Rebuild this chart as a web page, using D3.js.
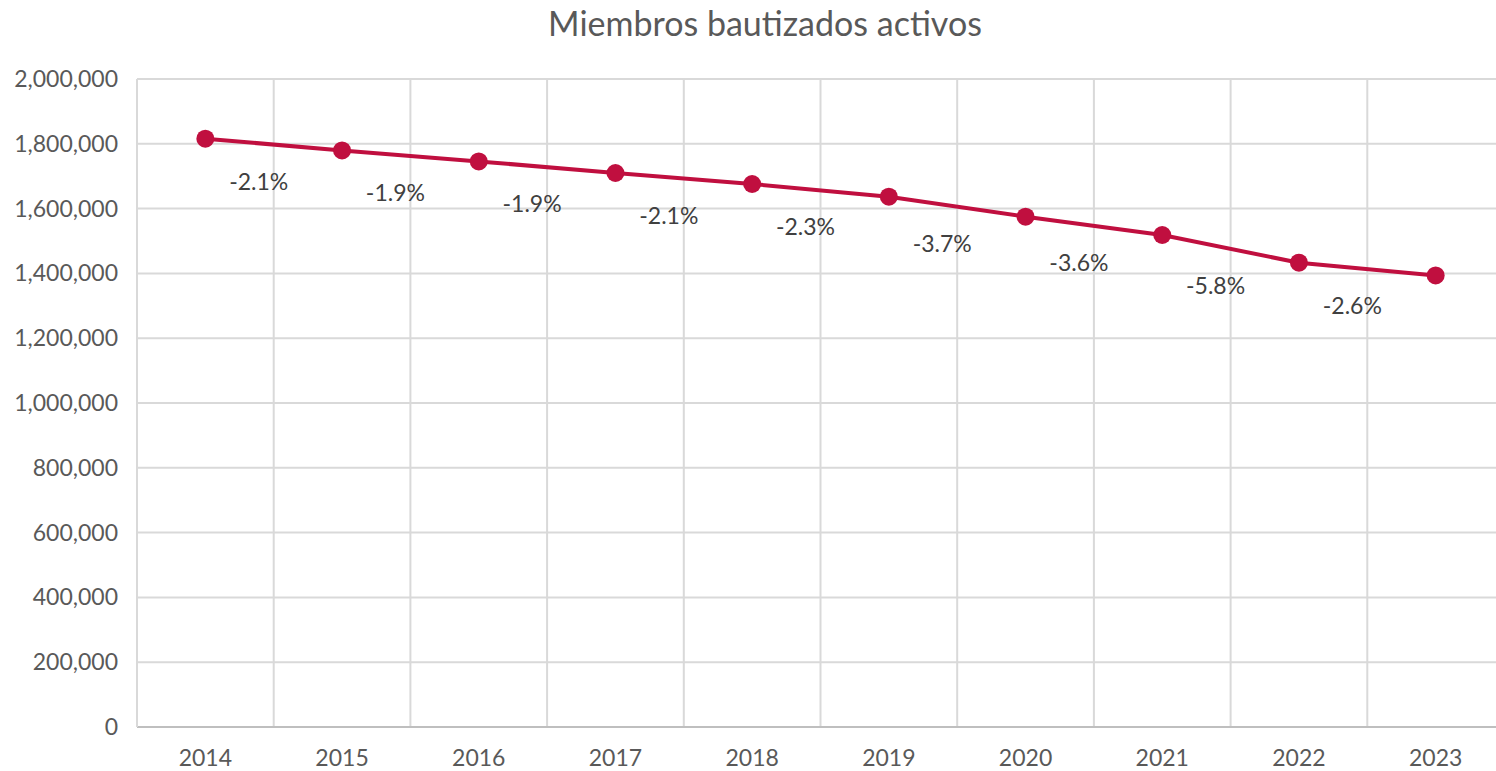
<!DOCTYPE html>
<html>
<head>
<meta charset="utf-8">
<script src="https://d3js.org/d3.v7.min.js"></script>
<style>
  body { margin: 0; background: #fff; }
  svg { display: block; font-family: Lato, "Open Sans", sans-serif; }
</style>
</head>
<body>
<div id="chart"></div>
<script>

var years = ["2014", "2015", "2016", "2017", "2018", "2019", "2020", "2021", "2022", "2023"];
var members = [1815700, 1779600, 1745700, 1709900, 1675900, 1636700, 1575000, 1518500, 1433000, 1393800];
var changeLabels = ["-2.1%", "-1.9%", "-1.9%", "-2.1%", "-2.3%", "-3.7%", "-3.6%", "-5.8%", "-2.6%"];
var yTicks = [0, 200000, 400000, 600000, 800000, 1000000, 1200000, 1400000, 1600000, 1800000, 2000000];

var W = 1496, H = 771;
var margin = {top: 79, right: -8, bottom: 44, left: 137};
var lineColor = "#C00F3F";

var svg = d3.select("#chart")
  .append("svg")
    .attr("width", W)
    .attr("height", H);

var x = d3.scaleBand()
  .domain(years)
  .range([margin.left, W - margin.right]);

var y = d3.scaleLinear()
  .domain([0, 2000000])
  .range([H - margin.bottom, margin.top]);

// horizontal gridlines
svg.append("g")
  .selectAll("line")
  .data(yTicks.slice(1))
  .enter().append("line")
    .attr("x1", margin.left)
    .attr("x2", W)
    .attr("y1", function(d) { return y(d); })
    .attr("y2", function(d) { return y(d); })
    .attr("stroke", "#D9D9D9")
    .attr("stroke-width", 2);

// vertical gridlines between categories
svg.append("g")
  .selectAll("line")
  .data(years.slice(1))
  .enter().append("line")
    .attr("x1", function(d) { return x(d); })
    .attr("x2", function(d) { return x(d); })
    .attr("y1", y(0))
    .attr("y2", y(2000000))
    .attr("stroke", "#D9D9D9")
    .attr("stroke-width", 2);

// axes lines
svg.append("line")
  .attr("x1", margin.left).attr("x2", W)
  .attr("y1", y(0)).attr("y2", y(0))
  .attr("stroke", "#BFBFBF").attr("stroke-width", 2);
svg.append("line")
  .attr("x1", margin.left).attr("x2", margin.left)
  .attr("y1", y(0)).attr("y2", y(2000000))
  .attr("stroke", "#D9D9D9").attr("stroke-width", 2);

// y tick labels
var fmt = d3.format(",");
svg.append("g")
  .selectAll("text")
  .data(yTicks)
  .enter().append("text")
    .attr("x", margin.left - 19)
    .attr("y", function(d) { return y(d); })
    .attr("dy", "0.35em")
    .attr("text-anchor", "end")
    .attr("fill", "#595959")
    .style("font-size", "23px")
    .text(function(d) { return fmt(d); });

// x tick labels
svg.append("g")
  .selectAll("text")
  .data(years)
  .enter().append("text")
    .attr("x", function(d) { return x(d) + x.bandwidth() / 2; })
    .attr("y", y(0) + 31)
    .attr("dy", "0.35em")
    .attr("text-anchor", "middle")
    .attr("fill", "#595959")
    .style("font-size", "23px")
    .text(function(d) { return d; });

// title
svg.append("text")
  .attr("x", 765)
  .attr("y", 24)
  .attr("dy", "0.35em")
  .attr("text-anchor", "middle")
  .attr("fill", "#595959")
  .style("font-size", "34px")
  .text("Miembros bautizados activos");

var points = years.map(function(d, i) {
  return {year: d, value: members[i], cx: x(d) + x.bandwidth() / 2, cy: y(members[i])};
});

var line = d3.line()
  .x(function(d) { return d.cx; })
  .y(function(d) { return d.cy; });

svg.append("path")
  .datum(points)
  .attr("d", line)
  .attr("fill", "none")
  .attr("stroke", lineColor)
  .attr("stroke-width", 4);

svg.append("g")
  .selectAll("circle")
  .data(points)
  .enter().append("circle")
    .attr("cx", function(d) { return d.cx; })
    .attr("cy", function(d) { return d.cy; })
    .attr("r", 9)
    .attr("fill", lineColor);

// change labels between consecutive years
svg.append("g")
  .selectAll("text")
  .data(changeLabels)
  .enter().append("text")
    .attr("x", function(d, i) { return (points[i].cx + points[i + 1].cx) / 2 - 15; })
    .attr("y", function(d, i) { return (points[i].cy + points[i + 1].cy) / 2 + 37; })
    .attr("dy", "0.35em")
    .attr("text-anchor", "middle")
    .attr("fill", "#404040")
    .style("font-size", "23px")
    .text(function(d) { return d; });

</script>
</body>
</html>
